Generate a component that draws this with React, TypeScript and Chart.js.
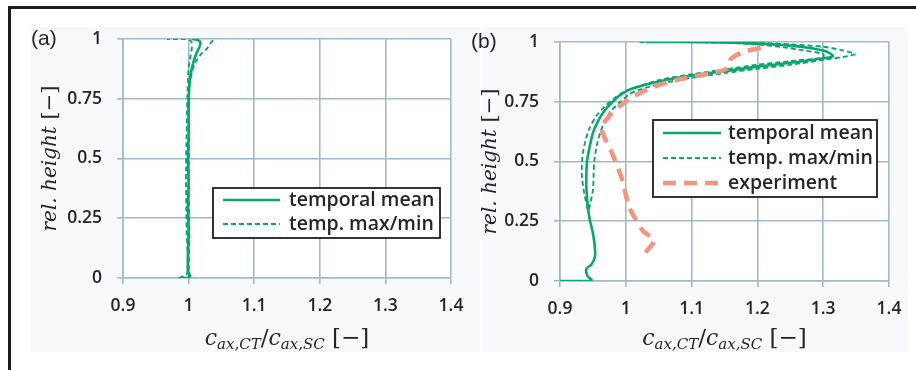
import React, { useEffect, useRef } from "react";
import { Chart, registerables } from "chart.js";
Chart.register(...registerables);

// ---------- data ----------
const xTicks = [0.9, 1.0, 1.1, 1.2, 1.3, 1.4];
const yTicks = [0, 0.25, 0.5, 0.75, 1];

// panel (a)
const aMeanX = [0.985, 1.0, 1.002, 0.999, 0.999, 1.0, 0.999, 1.0, 0.999, 1.0, 1.0, 1.001, 1.003, 1.007, 1.012, 1.017, 1.018, 1.013, 1.005];
const aMeanY = [0, 0, 0.01, 0.03, 0.1, 0.2, 0.3, 0.4, 0.5, 0.6, 0.7, 0.8, 0.85, 0.9, 0.94, 0.97, 0.985, 0.997, 1.0];
const aMaxX = [1.0, 1.001, 1.0, 1.001, 1.0, 1.002, 1.006, 1.012, 1.02, 1.028, 1.033, 1.036, 1.04];
const aMaxY = [0, 0.2, 0.4, 0.6, 0.75, 0.82, 0.87, 0.91, 0.94, 0.96, 0.98, 0.99, 1.0];
const aMinX = [0.985, 0.998, 0.997, 0.996, 0.997, 0.998, 0.999, 1.0, 1.003, 1.005, 1.004, 0.995, 0.967];
const aMinY = [0, 0.02, 0.2, 0.45, 0.6, 0.75, 0.82, 0.88, 0.93, 0.965, 0.99, 1.0, 1.0];

// panel (b)
const bMeanX = [0.9, 0.944, 0.948, 0.942, 0.94, 0.948, 0.953, 0.953, 0.95, 0.945, 0.942, 0.94, 0.941, 0.945, 0.95, 0.958, 0.967, 0.98, 0.995, 1.01, 1.05, 1.1, 1.15, 1.2, 1.25, 1.29, 1.315, 1.305, 1.28, 1.25, 1.2, 1.15, 1.1, 1.03];
const bMeanY = [0, 0, 0.005, 0.02, 0.05, 0.07, 0.1, 0.14, 0.2, 0.26, 0.32, 0.4, 0.5, 0.56, 0.62, 0.67, 0.71, 0.75, 0.785, 0.805, 0.835, 0.86, 0.878, 0.897, 0.913, 0.928, 0.94, 0.96, 0.975, 0.985, 0.993, 0.998, 1.0, 1.0];
const bMaxX = [0.944, 0.95, 0.952, 0.957, 0.965, 0.977, 0.992, 1.005, 1.02, 1.06, 1.1, 1.15, 1.2, 1.25, 1.3, 1.348, 1.33, 1.3, 1.25, 1.2, 1.15, 1.02];
const bMaxY = [0.3, 0.38, 0.5, 0.58, 0.65, 0.71, 0.75, 0.78, 0.8, 0.83, 0.85, 0.87, 0.888, 0.905, 0.925, 0.948, 0.965, 0.98, 0.99, 0.997, 1.0, 1.0];
const bMinX = [0.942, 0.936, 0.933, 0.934, 0.938, 0.945, 0.955, 0.968, 0.985, 1.0, 1.05, 1.1, 1.15, 1.2, 1.25, 1.3, 1.3, 1.27, 1.24, 1.2, 1.15, 1.05];
const bMinY = [0.3, 0.38, 0.45, 0.52, 0.58, 0.64, 0.69, 0.73, 0.77, 0.795, 0.84, 0.865, 0.885, 0.905, 0.92, 0.935, 0.95, 0.965, 0.978, 0.99, 0.997, 1.0];
const bExpX = [1.03, 1.043, 1.026, 1.005, 0.995, 0.98, 0.963, 0.975, 0.99, 1.01, 1.04, 1.075, 1.13, 1.155, 1.16, 1.18, 1.215];
const bExpY = [0.12, 0.17, 0.21, 0.31, 0.42, 0.53, 0.64, 0.69, 0.73, 0.77, 0.81, 0.84, 0.87, 0.89, 0.93, 0.96, 0.98];

const legendA = ["temporal mean", "temp. max/min"];
const legendB = ["temporal mean", "temp. max/min", "experiment"];
const panelLabels = ["(a)", "(b)"];
const yTitle = ["rel. height", " [\u2212]"];

// ---------- styles ----------
const GREEN = "#0aa66c";
const SALMON = "#f39481";
const GRID = "#a3b8ca";
const TEXT = "#22252c";

const pts = (xs: number[], ys: number[]) => xs.map((x, i) => ({ x, y: ys[i] }));
const fmt = (v: number) => String(Number(Number(v).toFixed(2)));

const meanStyle = { borderColor: GREEN, borderWidth: 2.6, borderDash: [] as number[] };
const mmStyle = { borderColor: GREEN, borderWidth: 1.9, borderDash: [5, 3] };
const expStyle = { borderColor: SALMON, borderWidth: 4.5, borderDash: [13, 8] };

type Area = { left: number; right: number; top: number; bottom: number };
type LegendCfg = { x: number; y: number; w: number; h: number; row0: number; rowH: number; s0: number; s1: number; tx: number };

type PanelCfg = {
  id: string;
  label: string;
  labelX: number;
  labelY: number;
  area: Area;
  yTitleX: number;
  datasets: any[];
  legendItems: { text: string; style: any }[];
  legend: LegendCfg;
};

function ds(label: string, xs: number[], ys: number[], style: any) {
  return {
    label,
    data: pts(xs, ys),
    showLine: true,
    pointRadius: 0,
    fill: false,
    tension: 0.25,
    borderColor: style.borderColor,
    borderWidth: style.borderWidth,
    borderDash: style.borderDash,
    borderCapStyle: "butt",
  };
}

function drawRich(ctx: CanvasRenderingContext2D, pieces: { t: string; font: string; dy: number }[], cx: number, baseY: number) {
  let total = 0;
  for (const p of pieces) {
    ctx.font = p.font;
    total += ctx.measureText(p.t).width;
  }
  let x = cx - total / 2;
  ctx.textAlign = "left";
  ctx.textBaseline = "alphabetic";
  for (const p of pieces) {
    ctx.font = p.font;
    ctx.fillText(p.t, x, baseY + p.dy);
    x += ctx.measureText(p.t).width;
  }
}

function makePlugin(p: PanelCfg) {
  return {
    id: "deco_" + p.id,
    beforeDraw(chart: any) {
      const { ctx, chartArea: a } = chart;
      ctx.save();
      ctx.fillStyle = "#ffffff";
      ctx.fillRect(a.left, a.top, a.right - a.left, a.bottom - a.top);
      ctx.restore();
    },
    afterDraw(chart: any) {
      const { ctx, chartArea: a } = chart;
      ctx.save();
      // panel label
      ctx.fillStyle = TEXT;
      ctx.font = '21px "Liberation Sans"';
      ctx.textAlign = "left";
      ctx.textBaseline = "alphabetic";
      ctx.fillText(p.label, p.labelX, p.labelY);

      // legend
      const L = p.legend;
      ctx.fillStyle = "#ffffff";
      ctx.fillRect(L.x, L.y, L.w, L.h);
      ctx.strokeStyle = "#1e1e1e";
      ctx.lineWidth = 1.8;
      ctx.strokeRect(L.x, L.y, L.w, L.h);
      p.legendItems.forEach((it, i) => {
        const y = L.row0 + i * L.rowH;
        ctx.beginPath();
        ctx.setLineDash(it.style.borderDash);
        ctx.lineWidth = it.style.borderWidth;
        ctx.strokeStyle = it.style.borderColor;
        ctx.moveTo(L.s0, y);
        ctx.lineTo(L.s1, y);
        ctx.stroke();
        ctx.setLineDash([]);
        ctx.fillStyle = TEXT;
        ctx.font = '600 19.5px "Open Sans"';
        ctx.textBaseline = "middle";
        ctx.textAlign = "left";
        ctx.fillText(it.text, L.tx, y);
      });

      // y title (rotated)
      ctx.fillStyle = TEXT;
      ctx.save();
      ctx.translate(p.yTitleX, (a.top + a.bottom) / 2);
      ctx.rotate(-Math.PI / 2);
      drawRich(
        ctx,
        [
          { t: yTitle[0], font: 'italic 20px "DejaVu Serif"', dy: 0 },
          { t: yTitle[1], font: '21px "DejaVu Serif"', dy: 0 },
        ],
        0,
        7
      );
      ctx.restore();

      // x title with subscripts
      const main = 'italic 22px "DejaVu Serif"';
      const sub = 'italic 15px "DejaVu Serif"';
      const up = '23px "DejaVu Serif"';
      drawRich(
        ctx,
        [
          { t: "c", font: main, dy: 0 },
          { t: "ax,CT", font: sub, dy: 4 },
          { t: "/", font: up, dy: 0 },
          { t: "c", font: main, dy: 0 },
          { t: "ax,SC", font: sub, dy: 4 },
          { t: " [\u2212]", font: up, dy: 0 },
        ],
        (a.left + a.right) / 2,
        345
      );
      ctx.restore();
    },
  };
}

function buildConfig(p: PanelCfg): any {
  const W = 916, H = 370;
  const tickFont = { family: '"Open Sans"', size: 17.5, weight: "600" };
  return {
    type: "scatter",
    data: { datasets: p.datasets },
    options: {
      animation: false,
      responsive: false,
      maintainAspectRatio: false,
      events: [],
      layout: { padding: { left: 0, right: W - p.area.right, top: p.area.top, bottom: 0 } },
      plugins: { legend: { display: false }, tooltip: { enabled: false }, title: { display: false } },
      scales: {
        x: {
          type: "linear",
          min: xTicks[0],
          max: xTicks[xTicks.length - 1],
          afterFit: (s: any) => { s.height = H - p.area.bottom; },
          afterBuildTicks: (s: any) => { s.ticks = xTicks.map((v) => ({ value: v })); },
          ticks: { callback: (v: any) => fmt(v), font: tickFont, color: TEXT, padding: 12, maxRotation: 0, autoSkip: false },
          grid: { color: GRID, lineWidth: 1.6, drawTicks: true, tickLength: 6, tickColor: GRID, tickWidth: 1.6 },
          border: { color: GRID, width: 1.6 },
        },
        y: {
          type: "linear",
          min: yTicks[0],
          max: yTicks[yTicks.length - 1],
          afterFit: (s: any) => { s.width = p.area.left; },
          afterBuildTicks: (s: any) => { s.ticks = yTicks.map((v) => ({ value: v })); },
          ticks: { callback: (v: any) => fmt(v), font: tickFont, color: TEXT, padding: 15, autoSkip: false },
          grid: { color: GRID, lineWidth: 1.6, drawTicks: true, tickLength: 6, tickColor: GRID, tickWidth: 1.6 },
          border: { color: GRID, width: 1.6 },
        },
      },
    },
    plugins: [makePlugin(p)],
  };
}

const panelA: PanelCfg = {
  id: "a",
  label: panelLabels[0],
  labelX: 31,
  labelY: 45,
  area: { left: 123, right: 451, top: 39, bottom: 278 },
  yTitleX: 49,
  datasets: [
    ds("temp. max", aMaxX, aMaxY, mmStyle),
    ds("temp. min", aMinX, aMinY, mmStyle),
    ds("temporal mean", aMeanX, aMeanY, meanStyle),
  ],
  legendItems: [
    { text: legendA[0], style: meanStyle },
    { text: legendA[1], style: mmStyle },
  ],
  legend: { x: 213, y: 188, w: 227, h: 50, row0: 200, rowH: 24, s0: 223, s1: 280, tx: 289 },
};

const panelB: PanelCfg = {
  id: "b",
  label: panelLabels[1],
  labelX: 471,
  labelY: 48,
  area: { left: 560, right: 889, top: 42, bottom: 281 },
  yTitleX: 489,
  datasets: [
    ds("experiment", bExpX, bExpY, expStyle),
    ds("temp. max", bMaxX, bMaxY, mmStyle),
    ds("temp. min", bMinX, bMinY, mmStyle),
    ds("temporal mean", bMeanX, bMeanY, meanStyle),
  ],
  legendItems: [
    { text: legendB[0], style: meanStyle },
    { text: legendB[1], style: mmStyle },
    { text: legendB[2], style: expStyle },
  ],
  legend: { x: 653, y: 120, w: 224, h: 77, row0: 133, rowH: 25, s0: 663, s1: 721, tx: 728 },
};

function PanelChart({ cfg }: { cfg: PanelCfg }) {
  const ref = useRef<HTMLCanvasElement>(null);
  useEffect(() => {
    const chart = new Chart(ref.current as HTMLCanvasElement, buildConfig(cfg));
    return () => chart.destroy();
  }, [cfg]);
  return (
    <canvas
      ref={ref}
      width={916}
      height={370}
      style={{ position: "absolute", left: 0, top: 0, width: 916, height: 370, display: "block" }}
    />
  );
}

export default function App() {
  return (
    <div style={{ position: "fixed", left: 0, top: 0, width: 916, height: 370, background: "#ffffff", overflow: "hidden" }}>
      <div style={{ position: "absolute", left: 30, top: 27, width: 450, height: 325, background: "#f8f9fc" }} />
      <div style={{ position: "absolute", left: 482, top: 27, width: 426, height: 325, background: "#f8f9fc" }} />
      <div
        style={{
          position: "absolute",
          left: 8,
          top: 6,
          width: 940,
          height: 400,
          borderTop: "3px solid #1c1c1c",
          borderLeft: "3px solid #1c1c1c",
        }}
      />
      <PanelChart cfg={panelA} />
      <PanelChart cfg={panelB} />
    </div>
  );
}
